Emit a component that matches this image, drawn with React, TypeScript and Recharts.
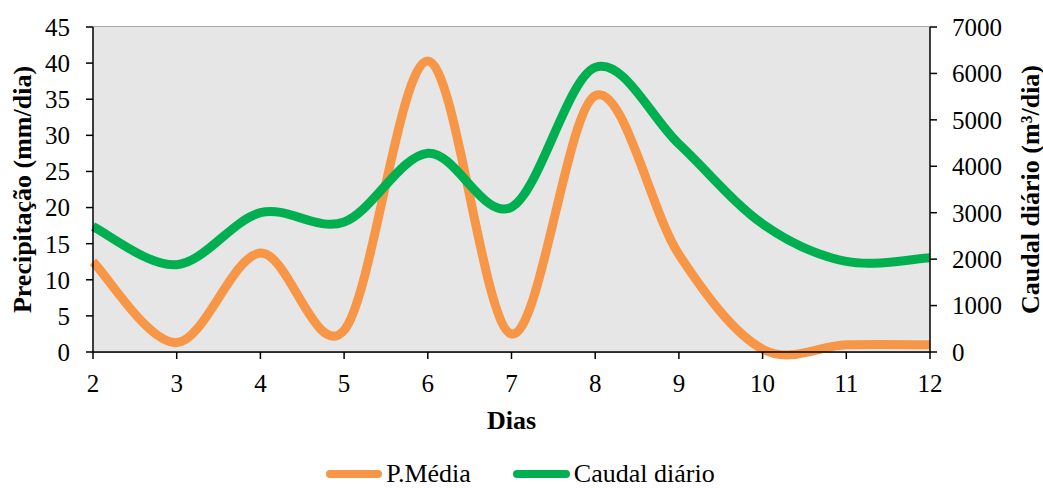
import { ComposedChart, Line, XAxis, YAxis, CartesianGrid, Legend, ReferenceArea } from 'recharts';

// Dias (x values)
const dias = [2, 3, 4, 5, 6, 7, 8, 9, 10, 11, 12];
// P.Média (mm/dia), left axis
const precipitacao = [12.5, 1.3, 13.7, 3.0, 40.3, 2.5, 35.5, 13.5, 0.4, 1.0, 1.0];
// Caudal diário (m3/dia), right axis
const caudal = [2700, 1880, 3000, 2800, 4280, 3120, 6130, 4480, 2760, 1950, 2030];

const leftTicks = [0, 5, 10, 15, 20, 25, 30, 35, 40, 45];
const rightTicks = [0, 1000, 2000, 3000, 4000, 5000, 6000, 7000];

const data = dias.map((d, i) => ({ dia: d, p: precipitacao[i], q: caudal[i] }));

const FONT = "'Liberation Serif', 'Times New Roman', serif";
const ORANGE = '#f79646';
const GREEN = '#00b050';

// Excel-like smoothed line (Catmull-Rom through the points)
const smoothCurve: any = (context: any) => {
  let pts: number[][] = [];
  return {
    areaStart() {},
    areaEnd() {},
    lineStart() {
      pts = [];
    },
    point(x: number, y: number) {
      pts.push([+x, +y]);
    },
    lineEnd() {
      if (!pts.length) return;
      context.moveTo(pts[0][0], pts[0][1]);
      for (let i = 0; i < pts.length - 1; i++) {
        const p0 = pts[i - 1] || pts[i];
        const p1 = pts[i];
        const p2 = pts[i + 1];
        const p3 = pts[i + 2] || pts[i + 1];
        context.bezierCurveTo(
          p1[0] + (p2[0] - p0[0]) / 6,
          p1[1] + (p2[1] - p0[1]) / 6,
          p2[0] - (p3[0] - p1[0]) / 6,
          p2[1] - (p3[1] - p1[1]) / 6,
          p2[0],
          p2[1]
        );
      }
    },
  };
};

const renderLegend = () => (
  <div style={{ display: 'flex', justifyContent: 'center', height: 28, lineHeight: '28px', fontFamily: FONT, fontSize: 26, color: '#000', paddingLeft: 31 }}>
    <div style={{ display: 'flex', alignItems: 'center', marginRight: 42 }}>
      <span style={{ display: 'inline-block', width: 56, height: 8, borderRadius: 4, background: ORANGE, marginRight: 4 }} />
      P.Média
    </div>
    <div style={{ display: 'flex', alignItems: 'center' }}>
      <span style={{ display: 'inline-block', width: 57, height: 8, borderRadius: 4, background: GREEN, marginRight: 4 }} />
      Caudal diário
    </div>
  </div>
);

// rotated axis title, centred on the plot height
const sideTitle = (text: string, dx: number) => (props: any) => {
  const vb = props.viewBox;
  const x = vb.x + dx;
  const y = vb.y + vb.height / 2;
  return (
    <text x={x} y={y} transform={`rotate(-90 ${x} ${y})`} textAnchor="middle" dominantBaseline="central"
      fill="#000" fontSize={26} fontWeight="bold" fontFamily={FONT}>
      {text}
    </text>
  );
};

const tickStyle = { fill: '#000', fontSize: 25, fontFamily: FONT };

export default function App() {
  return (
    <div style={{ position: 'fixed', left: 0, top: 0, background: '#fff', fontFamily: FONT }}>
      <style>{`.recharts-wrapper text, .recharts-text { font-family: ${FONT}; }`}</style>
      <ComposedChart width={1043} height={488} data={data} margin={{ top: 27, right: 33, left: 0, bottom: 0 }}>
        <ReferenceArea yAxisId="left" x1={2} x2={12} y1={0} y2={45} fill="#e6e6e6" fillOpacity={1} stroke="none" />
        <CartesianGrid yAxisId="left" vertical={false} stroke="#888888" strokeWidth={1.5} />
        <XAxis
          dataKey="dia"
          type="number"
          domain={[2, 12]}
          ticks={dias}
          height={108}
          tickSize={7}
          stroke="#000"
          strokeWidth={1.5}
          tick={tickStyle}
          tickMargin={15}
          label={{ value: 'Dias', position: 'insideTop', offset: 59, fill: '#000', fontSize: 26, fontWeight: 'bold', fontFamily: FONT }}
        />
        <YAxis
          yAxisId="left"
          domain={[0, 45]}
          ticks={leftTicks}
          width={93}
          tickSize={7}
          tickMargin={16}
          stroke="#000"
          strokeWidth={1.5}
          interval={0}
          tick={tickStyle}
          label={{ content: sideTitle('Precipitação (mm/dia)', 22) }}
        />
        <YAxis
          yAxisId="right"
          orientation="right"
          domain={[0, 7000]}
          ticks={rightTicks}
          width={80}
          tickSize={7}
          tickMargin={15}
          stroke="#000"
          strokeWidth={1.5}
          interval={0}
          tick={tickStyle}
          label={{ content: sideTitle('Caudal diário (m³/dia)', 100) }}
        />
        <Legend verticalAlign="bottom" content={renderLegend} wrapperStyle={{ bottom: 0 }} />
        <Line yAxisId="left" dataKey="p" name="P.Média" type={smoothCurve} stroke={ORANGE} strokeWidth={9} dot={false} isAnimationActive={false} />
        <Line yAxisId="right" dataKey="q" name="Caudal diário" type={smoothCurve} stroke={GREEN} strokeWidth={9} dot={false} isAnimationActive={false} />
      </ComposedChart>
    </div>
  );
}
